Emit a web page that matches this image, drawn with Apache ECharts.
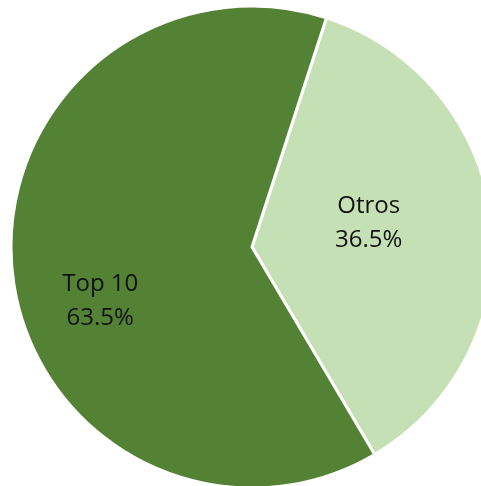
<!DOCTYPE html>
<html>
<head>
<meta charset="utf-8">
<script src="https://cdn.jsdelivr.net/npm/echarts@6/dist/echarts.min.js"></script>
<style>
  html, body { margin: 0; padding: 0; background: #fff; }
  #chart { width: 481px; height: 486px; }
</style>
</head>
<body>
<div id="chart"></div>
<script>
// slice names and shares (%)
const categories = ['Otros', 'Top 10']
const shares = [36.5, 63.5]
const colors = ['#C5E0B4', '#548235']
// nudges so labels sit where Excel put them
const labelOffsets = [[-6, -10], [-29, 41]]

const chart = echarts.init(document.getElementById('chart'))

chart.setOption({
  animation: false,
  backgroundColor: '#fff',
  series: [
    {
      type: 'pie',
      center: [252, 247],
      radius: [0, 241],
      startAngle: 72,
      clockwise: true,
      data: categories.map((name, i) => ({
        name,
        value: shares[i],
        itemStyle: { color: colors[i] },
        label: { offset: labelOffsets[i] },
      })),
      itemStyle: { borderColor: '#fff', borderWidth: 3 },
      label: {
        show: true,
        position: 'inner',
        formatter: (p) => `${p.name}\n${p.value.toFixed(1)}%`,
        color: '#111',
        fontSize: 24,
        lineHeight: 34,
        fontFamily: '"Open Sans", "Noto Sans", sans-serif',
      },
      labelLine: { show: false },
      emphasis: { disabled: true },
    },
  ],
})
</script>
</body>
</html>
